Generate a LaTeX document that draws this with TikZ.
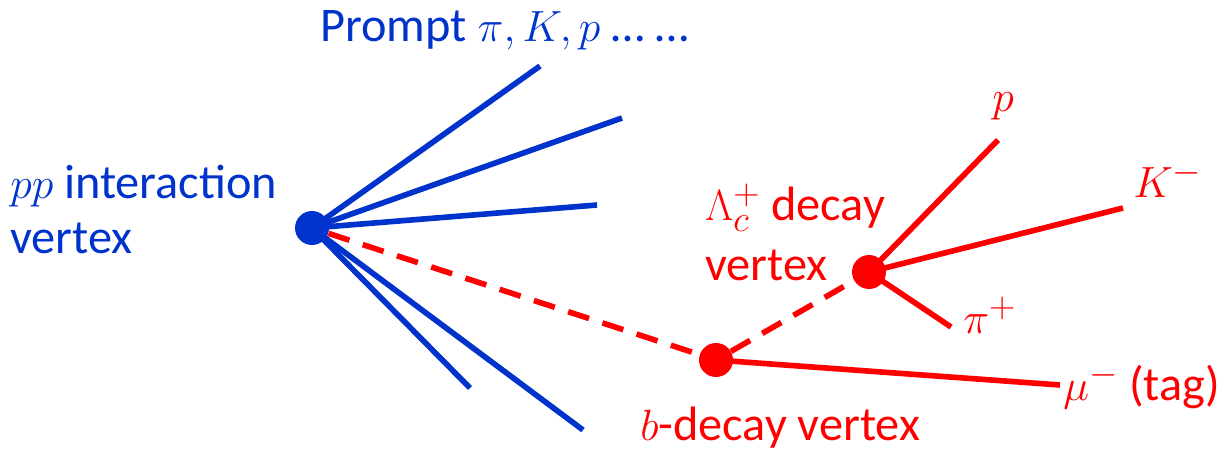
\documentclass[tikz,border=0pt]{standalone}
\usepackage{fontspec}
\setmainfont{Carlito}
\usetikzlibrary{calc}
\definecolor{vblue}{RGB}{0,51,204}
\definecolor{vred}{RGB}{255,0,0}

\begin{document}
\begin{tikzpicture}[x=0.02cm,y=-0.02cm,
  track/.style={line width=3.2pt},
  dtrack/.style={line width=3.2pt,dash pattern=on 12.5pt off 8pt},
  vtx/.style={circle,fill,inner sep=0pt,minimum size=0.68cm},
  lbl/.style={font=\fontsize{27.5}{31}\selectfont,inner sep=0pt},
  mlbl/.style={font=\fontsize{30}{34}\selectfont,inner sep=0pt}]

\useasboundingbox (0,0) rectangle (1229,452);

% ---------------- vertices ----------------
\node[vtx,vblue] (pp) at (312,228) {};
\node[vtx,vred] (bvtx) at (716,360) {};
\node[vtx,vred] (lcvtx) at (869,272) {};

% ---------------- prompt tracks ----------------
\coordinate (t1) at (540,66);
\coordinate (t2) at (622,118);
\coordinate (t3) at (597,205);
\coordinate (t4) at (470,388);
\coordinate (t5) at (583,430);
\foreach \e in {t1,t2,t3,t4,t5}
  \draw[track,vblue] (pp.center) -- (\e);

% ---------------- decay chain ----------------
\draw[dtrack,vred] (pp) -- (bvtx);
\draw[dtrack,vred] (bvtx) -- (lcvtx);

\coordinate (pend) at (998,140);
\coordinate (kend) at (1123,208);
\coordinate (piend) at (951,327);
\coordinate (muend) at (1060,385);
\draw[track,vred] (lcvtx.center) -- (pend);
\draw[track,vred] (lcvtx.center) -- (kend);
\draw[track,vred] (lcvtx.center) -- (piend);
\draw[track,vred] (bvtx.center) -- (muend);

% ---------------- labels ----------------
\node[lbl,vblue,anchor=base west] (prompt) at (320,42) {Prompt $\pi, K, p$ \dots\ \dots};
\node[lbl,vblue,anchor=north west,align=left] (pplbl) at (10,165) {$pp$ interaction\\vertex};

\node[lbl,vred,anchor=north west,align=left] (lclbl) at (705,184) {$\Lambda_c^+$ decay\\[3pt]vertex};
\node[lbl,vred,anchor=base west] (blbl) at (640,440) {$b$-decay vertex};

\node[mlbl,vred,anchor=base] (plbl) at (1003,112) {$p$};
\node[mlbl,vred,anchor=base west] (klbl) at (1133,198) {$K^-$};
\node[mlbl,vred,anchor=base west] (pilbl) at (963,333) {$\pi^+$};
\node[lbl,vred,anchor=base west] (mulbl) at (1063,400) {$\mu^-$ (tag)};

\end{tikzpicture}
\end{document}
